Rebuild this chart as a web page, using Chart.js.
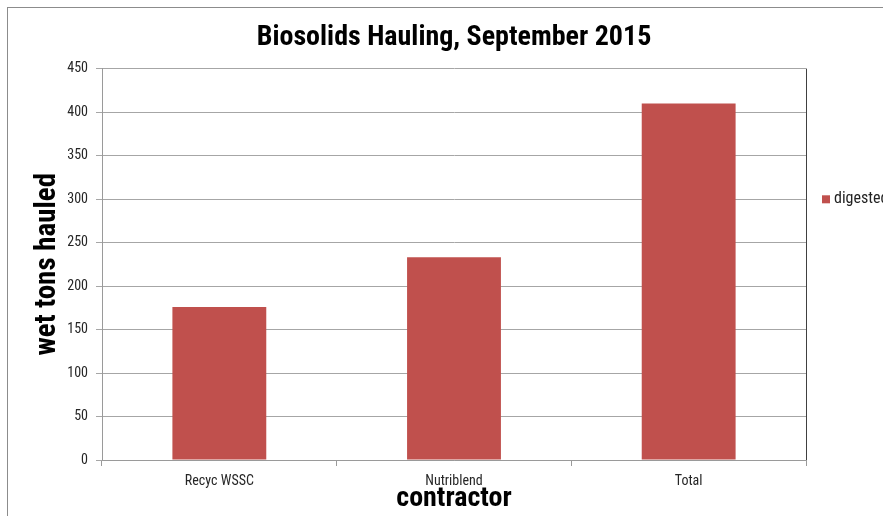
<!DOCTYPE html>
<html lang="en">
<head>
  <meta charset="UTF-8" />
  <title>Biosolids Hauling, September 2015</title>
  <script src="https://cdn.jsdelivr.net/npm/chart.js"></script>
  <style>
    body { margin: 0; background: #fff; overflow: hidden; }
    .wrap { position: relative; width: 883px; height: 516px; }
    .frame { position: absolute; left: 7px; top: 7px; right: -5px; bottom: -5px; border-left: 1px solid #8c8c8c; border-top: 1px solid #8c8c8c; }
    canvas { position: absolute; left: 0; top: 0; }
  </style>
</head>
<body>
  <div class="wrap">
    <div class="frame"></div>
    <canvas id="grafico" width="883" height="516"></canvas>
  </div>

  <script>
    const contractors = ['Recyc WSSC', 'Nutriblend', 'Total'];
    const digested = [176, 233, 410];
    const seriesName = 'digested';

    const FONT = "'Liberation Sans Narrow', 'Roboto Condensed', 'Open Sans', sans-serif";

    // right edge line + legend like the Excel original
    const extras = {
      id: 'extras',
      afterDraw(chart) {
        const { ctx, chartArea } = chart;
        ctx.save();
        ctx.strokeStyle = '#404040';
        ctx.lineWidth = 1;
        ctx.beginPath();
        ctx.moveTo(chartArea.right + 0.5, chartArea.top);
        ctx.lineTo(chartArea.right + 0.5, chartArea.bottom);
        ctx.stroke();

        const ly = (chartArea.top + chartArea.bottom) / 2 - 65;
        ctx.fillStyle = '#c0504d';
        ctx.fillRect(chartArea.right + 16, ly - 4, 8, 8);
        ctx.fillStyle = '#222';
        ctx.font = '16px ' + FONT;
        ctx.textBaseline = 'middle';
        ctx.fillText(seriesName, chartArea.right + 28, ly);
        ctx.restore();
      }
    };

    new Chart(document.getElementById('grafico'), {
      type: 'bar',
      data: {
        labels: contractors,
        datasets: [{ label: seriesName, data: digested, backgroundColor: '#c0504d', barPercentage: 0.4, categoryPercentage: 1 }]
      },
      options: {
        responsive: false,
        animation: false,
        layout: { padding: { left: 30, right: 77, top: 0, bottom: 0 } },
        plugins: {
          legend: { display: false },
          tooltip: { enabled: false },
          title: {
            display: true,
            fullSize: false,
            text: 'Biosolids Hauling, September 2015',
            color: '#000',
            font: { family: FONT, size: 28, weight: 'bold' },
            padding: { top: 21, bottom: 14 }
          }
        },
        scales: {
          x: {
            grid: { drawOnChartArea: false, tickLength: 6, color: '#9a9a9a' },
            border: { color: '#9a9a9a' },
            ticks: { color: '#262626', font: { family: FONT, size: 14 }, padding: 7 },
            title: { display: true, text: 'contractor', color: '#000', font: { family: FONT, size: 28, weight: 'bold' }, padding: { top: 0, bottom: 0 } },
            afterFit: s => { s.height = 56; }
          },
          y: {
            min: 0, max: 450,
            ticks: { stepSize: 50, color: '#262626', font: { family: FONT, size: 14 }, padding: 8 },
            grid: { color: '#a6a6a6', tickLength: 6 },
            border: { color: '#9a9a9a' },
            title: { display: true, text: 'wet tons hauled', color: '#000', font: { family: FONT, size: 29, weight: 'bold' }, padding: { top: 0, bottom: 4 } },
            afterFit: s => { s.width = 72; }
          }
        }
      },
      plugins: [extras]
    });
  </script>
</body>
</html>
